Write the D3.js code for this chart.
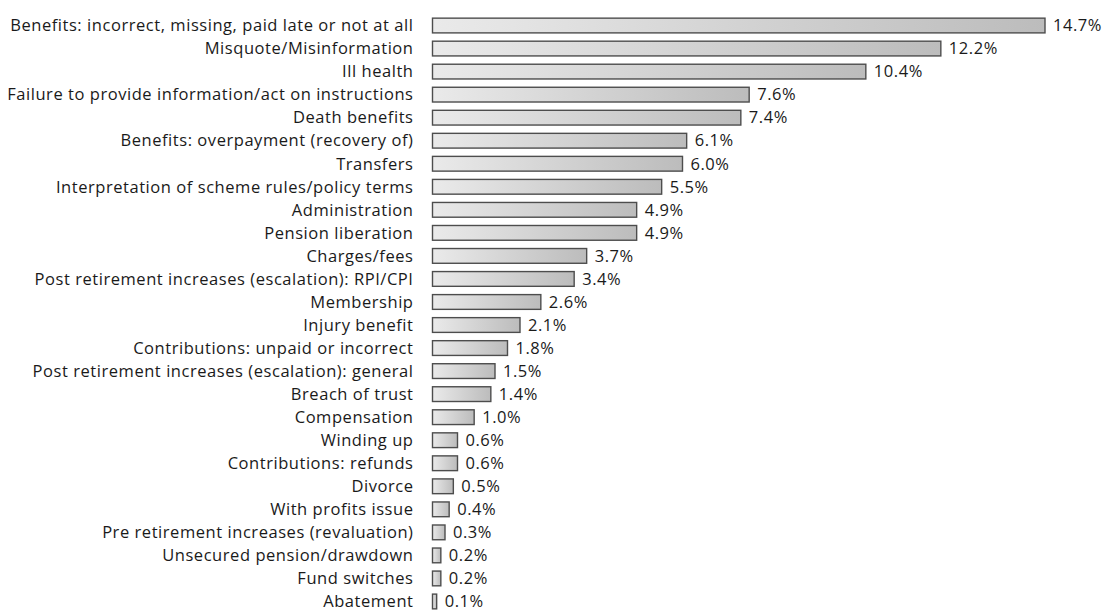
<!DOCTYPE html>
<html>
<head>
<meta charset="utf-8">
<script src="https://cdn.jsdelivr.net/npm/d3@7"></script>
<style>
  html, body { margin: 0; padding: 0; background: #fff; }
  svg text { font-family: "Open Sans", "Lato", sans-serif; fill: #1a1a1a; letter-spacing: 0.55px; }
</style>
</head>
<body>
<svg id="chart" width="1111" height="611"></svg>
<script>
// Complaint categories, in display order (largest first)
const categories = [
  "Benefits: incorrect, missing, paid late or not at all",
  "Misquote/Misinformation",
  "Ill health",
  "Failure to provide information/act on instructions",
  "Death benefits",
  "Benefits: overpayment (recovery of)",
  "Transfers",
  "Interpretation of scheme rules/policy terms",
  "Administration",
  "Pension liberation",
  "Charges/fees",
  "Post retirement increases (escalation): RPI/CPI",
  "Membership",
  "Injury benefit",
  "Contributions: unpaid or incorrect",
  "Post retirement increases (escalation): general",
  "Breach of trust",
  "Compensation",
  "Winding up",
  "Contributions: refunds",
  "Divorce",
  "With profits issue",
  "Pre retirement increases (revaluation)",
  "Unsecured pension/drawdown",
  "Fund switches",
  "Abatement"
];

// Share of complaints, percent
const shares = [14.7, 12.2, 10.4, 7.6, 7.4, 6.1, 6.0, 5.5, 4.9, 4.9, 3.7, 3.4, 2.6,
                2.1, 1.8, 1.5, 1.4, 1.0, 0.6, 0.6, 0.5, 0.4, 0.3, 0.2, 0.2, 0.1];

const rows = categories.map((c, i) => ({ name: c, value: shares[i] }));

const svg = d3.select("#chart");

const x = d3.scaleLinear().domain([0, 14.7]).range([432.5, 1045]);
const y = d3.scaleBand()
  .domain(categories)
  .range([14, 613])
  .paddingInner(0.36)
  .paddingOuter(0.18);

// Horizontal light-to-dark fill applied per bar
const defs = svg.append("defs");
const grad = defs.append("linearGradient")
  .attr("id", "barFill")
  .attr("x1", "0").attr("y1", "0").attr("x2", "1").attr("y2", "0");
grad.append("stop").attr("offset", "0%").attr("stop-color", "#eaeaea");
grad.append("stop").attr("offset", "100%").attr("stop-color", "#bcbcbc");

const g = svg.append("g");

g.selectAll("rect.bar")
  .data(rows)
  .join("rect")
  .attr("class", "bar")
  .attr("x", x(0))
  .attr("y", d => y(d.name))
  .attr("width", d => x(d.value) - x(0))
  .attr("height", y.bandwidth())
  .attr("fill", "url(#barFill)")
  .attr("stroke", "#4d4d4d")
  .attr("stroke-width", 1.4);

// Category labels, right-aligned against the bars
g.selectAll("text.cat")
  .data(rows)
  .join("text")
  .attr("class", "cat")
  .attr("x", x(0) - 19)
  .attr("y", d => y(d.name) + y.bandwidth() / 2)
  .attr("dy", "0.35em")
  .attr("text-anchor", "end")
  .attr("font-size", "16.5px")
  .text(d => d.name);

// Value labels at the end of each bar
g.selectAll("text.val")
  .data(rows)
  .join("text")
  .attr("class", "val")
  .attr("x", d => x(d.value) + 8)
  .attr("y", d => y(d.name) + y.bandwidth() / 2)
  .attr("dy", "0.35em")
  .attr("text-anchor", "start")
  .attr("font-size", "16.5px")
  .text(d => d.value.toFixed(1) + "%");
</script>
</body>
</html>
